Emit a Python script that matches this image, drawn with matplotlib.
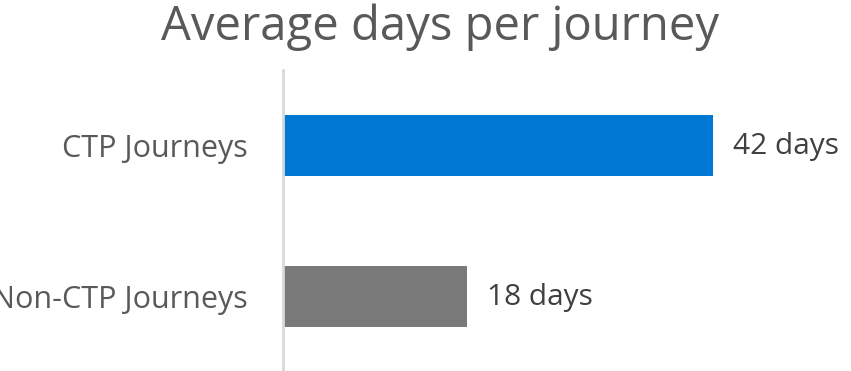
import matplotlib
matplotlib.use("Agg")
import matplotlib.pyplot as plt

categories = ["Non-CTP Journeys", "CTP Journeys"]
days = [18, 42]
bar_colors = ["#7A7A7A", "#0078D4"]
value_labels = [f"{d} days" for d in days]

plt.rcParams["font.family"] = ["Open Sans", "DejaVu Sans"]

W, H = 851, 371
fig = plt.figure(figsize=(W / 100, H / 100), dpi=100)
ax = fig.add_axes([283 / W, 1 / H, 1 - 283 / W, (370 - 70) / H])

px_per_day = 430 / 42
ax.set_xlim(0, (W - 283) / px_per_day)
ax.set_ylim(-0.487, 1.5)

ypos = list(range(len(categories)))
ax.barh(ypos, days, height=0.404, color=bar_colors, left=0)

for y, d, lab in zip(ypos, days, value_labels):
    ax.annotate(lab, xy=(d, y), xytext=(20, -1), textcoords="offset pixels",
                ha="left", va="center", fontsize=21.5, color="#404040")

ax.set_yticks(ypos)
ax.set_yticklabels(categories, fontsize=22, color="#595959")
ax.tick_params(axis="y", length=0, pad=35 * 72 / 100)
ax.set_xticks([])
for s in ["top", "right", "bottom"]:
    ax.spines[s].set_visible(False)
ax.spines["left"].set_color("#D9D9D9")
ax.spines["left"].set_linewidth(2)

fig.text(440 / W, 1 - 40 / H, "Average days per journey", ha="center", va="baseline",
         fontsize=34, color="#595959")

fig.savefig("out.png", dpi=100)
